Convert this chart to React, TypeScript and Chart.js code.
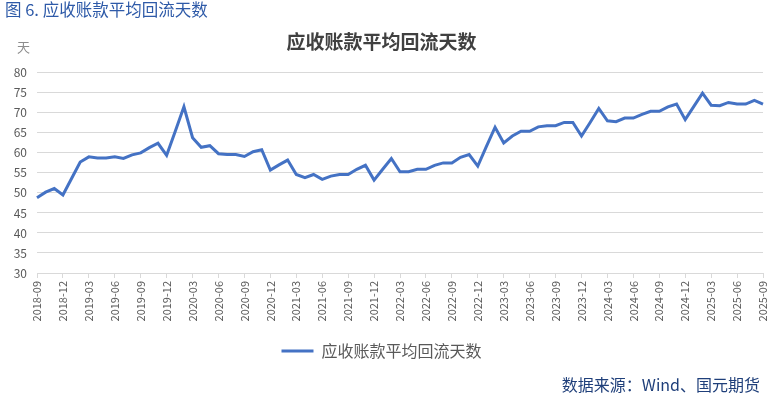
import React, { useEffect, useRef } from 'react';
import { Chart, registerables } from 'chart.js';

Chart.register(...registerables);

const months = [
  '2018-09', '2018-10', '2018-11', '2018-12',
  '2019-01', '2019-02', '2019-03', '2019-04', '2019-05', '2019-06', '2019-07', '2019-08', '2019-09', '2019-10', '2019-11', '2019-12',
  '2020-01', '2020-02', '2020-03', '2020-04', '2020-05', '2020-06', '2020-07', '2020-08', '2020-09', '2020-10', '2020-11', '2020-12',
  '2021-01', '2021-02', '2021-03', '2021-04', '2021-05', '2021-06', '2021-07', '2021-08', '2021-09', '2021-10', '2021-11', '2021-12',
  '2022-01', '2022-02', '2022-03', '2022-04', '2022-05', '2022-06', '2022-07', '2022-08', '2022-09', '2022-10', '2022-11', '2022-12',
  '2023-01', '2023-02', '2023-03', '2023-04', '2023-05', '2023-06', '2023-07', '2023-08', '2023-09', '2023-10', '2023-11', '2023-12',
  '2024-01', '2024-02', '2024-03', '2024-04', '2024-05', '2024-06', '2024-07', '2024-08', '2024-09', '2024-10', '2024-11', '2024-12',
  '2025-01', '2025-02', '2025-03', '2025-04', '2025-05', '2025-06', '2025-07', '2025-08', '2025-09',
];

const receivableDays = [
  48.8, 50.2, 51.1, 49.5, 53.6, 57.7, 59.0, 58.7, 58.7, 59.0,
  58.6, 59.5, 60.0, 61.3, 62.4, 59.4, 65.4, 71.5, 63.8, 61.4,
  61.8, 59.8, 59.6, 59.6, 59.1, 60.3, 60.8, 55.7, 57.0, 58.2,
  54.6, 53.8, 54.6, 53.4, 54.2, 54.6, 54.6, 55.9, 56.9, 53.2,
  55.9, 58.6, 55.3, 55.3, 55.9, 55.9, 56.9, 57.5, 57.5, 58.9,
  59.6, 56.7, 61.6, 66.4, 62.5, 64.2, 65.4, 65.4, 66.5, 66.8,
  66.8, 67.6, 67.6, 64.2, 67.6, 71.1, 68.0, 67.8, 68.7, 68.7,
  69.6, 70.4, 70.4, 71.5, 72.2, 68.3, 71.6, 74.9, 71.9, 71.8,
  72.6, 72.2, 72.2, 73.1, 72.2,
];

const tickLabels = [
  '2018-09', '2018-12', '2019-03', '2019-06', '2019-09', '2019-12',
  '2020-03', '2020-06', '2020-09', '2020-12', '2021-03', '2021-06',
  '2021-09', '2021-12', '2022-03', '2022-06', '2022-09', '2022-12',
  '2023-03', '2023-06', '2023-09', '2023-12', '2024-03', '2024-06',
  '2024-09', '2024-12', '2025-03', '2025-06', '2025-09',
];

const seriesName = '应收账款平均回流天数';
const chartTitle = '应收账款平均回流天数';
const figureCaption = '图 6. 应收账款平均回流天数';
const unitLabel = '天';
const sourceNote = '数据来源：Wind、国元期货';

const FONT = '"Noto Sans CJK SC", "Noto Sans", sans-serif';

export default function App() {
  const canvasRef = useRef<HTMLCanvasElement | null>(null);

  useEffect(() => {
    document.body.style.margin = '0';
    const canvas = canvasRef.current;
    if (!canvas) return;
    Chart.defaults.font.family = FONT;
    const chart = new Chart(canvas, {
      type: 'line',
      data: {
        labels: months,
        datasets: [
          {
            label: seriesName,
            data: receivableDays,
            borderColor: '#4472C4',
            backgroundColor: '#4472C4',
            borderWidth: 3,
            pointRadius: 0,
            pointHoverRadius: 0,
            tension: 0,
            fill: false,
          },
        ],
      },
      options: {
        animation: false,
        responsive: false,
        maintainAspectRatio: false,
        layout: { padding: { left: 0, right: 19, top: 0, bottom: 27 } },
        plugins: {
          title: {
            display: true,
            text: chartTitle,
            color: '#404040',
            font: { size: 19, weight: 'bold', family: FONT },
            padding: { top: 30, bottom: 20 },
          },
          legend: {
            display: true,
            position: 'bottom',
            labels: {
              color: '#595959',
              font: { size: 16, family: FONT },
              usePointStyle: true,
              pointStyle: 'line',
              pointStyleWidth: 32,
              boxWidth: 32,
              padding: 10,
            },
          },
          tooltip: { enabled: false },
        },
        scales: {
          x: {
            type: 'category',
            offset: false,
            border: { display: true, color: '#d9d9d9', width: 1 },
            grid: {
              display: true,
              drawOnChartArea: false,
              drawTicks: true,
              tickLength: 5,
              color: (ctx: any) => {
                const lbl = months[ctx.index];
                return tickLabels.includes(lbl) ? '#d9d9d9' : 'rgba(0,0,0,0)';
              },
            },
            ticks: {
              autoSkip: false,
              maxRotation: 90,
              minRotation: 90,
              padding: 3,
              color: '#595959',
              font: { size: 11, family: FONT },
              callback: (_v: any, i: number) => (tickLabels.includes(months[i]) ? months[i] : ''),
            },
            afterFit: (scale: any) => {
              scale.height = 60;
            },
          },
          y: {
            min: 30,
            max: 80,
            border: { display: false },
            grid: { color: '#d9d9d9', lineWidth: 1, drawTicks: false },
            ticks: {
              stepSize: 5,
              padding: 10,
              color: '#595959',
              font: { size: 12, family: FONT },
            },
            afterFit: (scale: any) => {
              scale.width = 37;
            },
          },
        },
      },
    });
    return () => chart.destroy();
  }, []);

  return (
    <div style={{ position: 'absolute', left: 0, top: 0, width: 782, height: 396, background: '#fff', fontFamily: FONT }}>
      <canvas ref={canvasRef} width={782} height={396} style={{ position: 'absolute', left: 0, top: 0, width: 782, height: 396 }} />
      <div style={{ position: 'absolute', left: 5, top: -1, fontSize: 16.5, lineHeight: '20px', color: '#2E5AA8', whiteSpace: 'nowrap' }}>
        {figureCaption}
      </div>
      <div style={{ position: 'absolute', left: 17, top: 38, fontSize: 13, lineHeight: '18px', color: '#8c8c8c' }}>{unitLabel}</div>
      <div style={{ position: 'absolute', right: 22, top: 374, fontSize: 16, lineHeight: '20px', color: '#1F3F7A', whiteSpace: 'nowrap' }}>
        {sourceNote}
      </div>
    </div>
  );
}
